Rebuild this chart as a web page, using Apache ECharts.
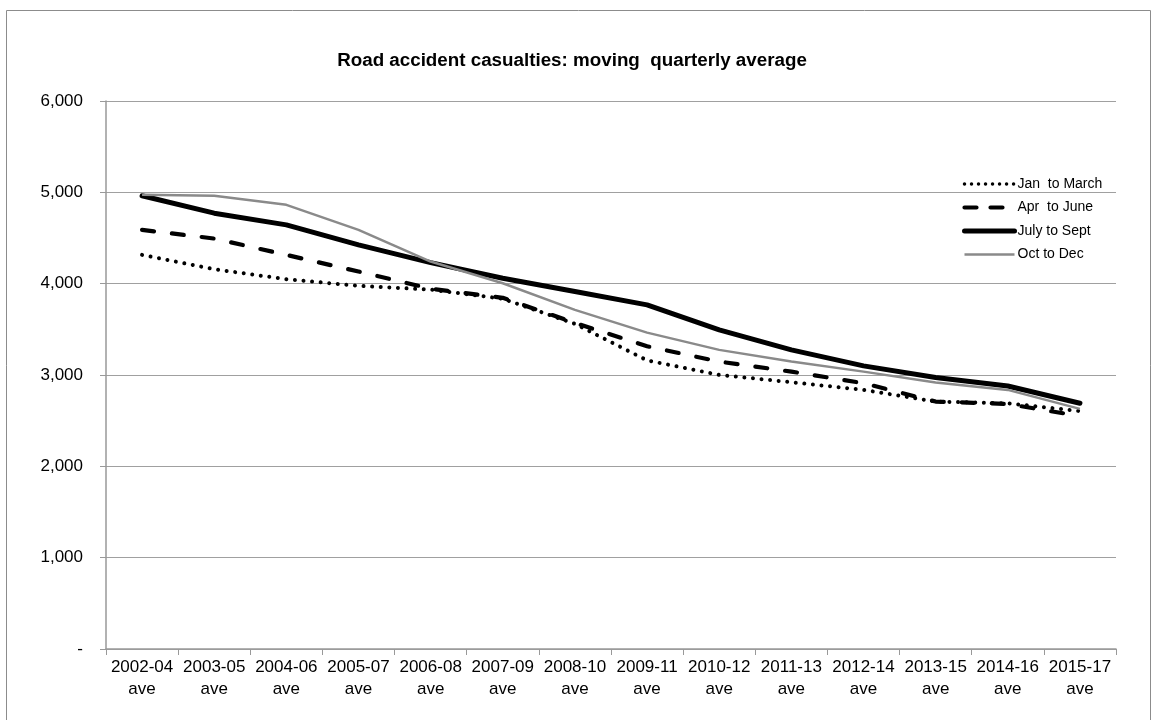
<!DOCTYPE html>
<html>
<head>
<meta charset="utf-8">
<script src="https://cdn.jsdelivr.net/npm/echarts@6/dist/echarts.min.js"></script>
<style>html,body{margin:0;padding:0;background:#fff}#c{width:1152px;height:720px}</style>
</head>
<body>
<div id="c"></div>
<script>
const categories = ['2002-04 ave','2003-05 ave','2004-06 ave','2005-07 ave','2006-08 ave','2007-09 ave','2008-10 ave','2009-11 ave','2010-12 ave','2011-13 ave','2012-14 ave','2013-15 ave','2014-16 ave','2015-17 ave'];
const janToMarch = [4315, 4158, 4049, 3976, 3935, 3835, 3560, 3160, 3001, 2921, 2837, 2709, 2690, 2605];
const aprToJune  = [4589, 4494, 4315, 4133, 3945, 3845, 3570, 3315, 3147, 3037, 2910, 2709, 2683, 2550];
const julyToSept = [4962, 4772, 4644, 4425, 4231, 4060, 3914, 3768, 3494, 3275, 3100, 2972, 2880, 2691];
const octToDec   = [4973, 4962, 4863, 4589, 4242, 4005, 3713, 3464, 3275, 3147, 3037, 2917, 2837, 2629];
const seriesNames = ['Jan  to March', 'Apr  to June', 'July to Sept', 'Oct to Dec'];
const yTicks = [0, 1000, 2000, 3000, 4000, 5000, 6000];

const FONT = 'Liberation Sans';
const styles = [
  {color: '#000', width: 4, type: [0.01, 8.6], cap: 'round'},
  {color: '#000', width: 4.2, type: [12, 18], cap: 'round'},
  {color: '#000', width: 5, type: 'solid', cap: 'round'},
  {color: '#8a8a8a', width: 2.5, type: 'solid', cap: 'butt'}
];
const legendStyles = [
  {color: '#000', width: 3.5, type: [0.01, 7], cap: 'round'},
  {color: '#000', width: 4.2, type: [12, 14], cap: 'round'},
  {color: '#000', width: 5, type: 'solid', cap: 'round'},
  {color: '#8a8a8a', width: 2.5, type: 'solid', cap: 'butt'}
];
const seriesData = [janToMarch, aprToJune, julyToSept, octToDec];

const chart = echarts.init(document.getElementById('c'), null, {renderer: 'canvas'});
chart.setOption({
  backgroundColor: '#fff',
  animation: false,
  textStyle: {fontFamily: FONT},
  graphic: [{
    type: 'rect', silent: true,
    shape: {x: 6.5, y: 10.5, width: 1144, height: 720},
    style: {fill: 'none', stroke: '#8c8c8c', lineWidth: 1}
  }],
  title: {
    text: 'Road accident casualties: moving  quarterly average',
    left: 567, top: 46, textAlign: 'center',
    textStyle: {fontFamily: FONT, fontSize: 18.8, fontWeight: 'bold', color: '#000'}
  },
  legend: {
    orient: 'vertical', left: 957, top: 172,
    itemWidth: 50, itemHeight: 14, itemGap: 9.5,
    data: seriesNames.map((n, i) => ({name: n, lineStyle: legendStyles[i]})),
    itemStyle: {opacity: 0},
    textStyle: {fontFamily: FONT, fontSize: 14, color: '#000', padding: [0, 0, 0, -2]}
  },
  grid: {left: 106, right: 36, top: 101, bottom: 71, containLabel: false},
  xAxis: {
    type: 'category', data: categories, boundaryGap: true,
    axisLine: {lineStyle: {color: '#999', width: 1.5}},
    axisTick: {show: true, length: 6, lineStyle: {color: '#999'}},
    axisLabel: {interval: 0, margin: 7, fontFamily: FONT, fontSize: 17, color: '#000', lineHeight: 22,
      formatter: v => v.replace(' ', '\n')}
  },
  yAxis: {
    type: 'value', min: 0, max: 6000, interval: 1000,
    axisLine: {show: true, lineStyle: {color: '#999', width: 1.5}},
    axisTick: {show: true, length: 6, lineStyle: {color: '#999'}},
    splitLine: {lineStyle: {color: '#a0a0a0', width: 1.2}},
    axisLabel: {margin: 23, fontFamily: FONT, fontSize: 17, color: '#000',
      formatter: v => yTicks.includes(v) ? (v === 0 ? '-' : v.toLocaleString('en-US')) : ''}
  },
  series: seriesNames.map((n, i) => ({
    name: n, type: 'line', data: seriesData[i], symbol: 'none',
    lineStyle: styles[i], itemStyle: {color: styles[i].color}
  }))
});
</script>
</body>
</html>
